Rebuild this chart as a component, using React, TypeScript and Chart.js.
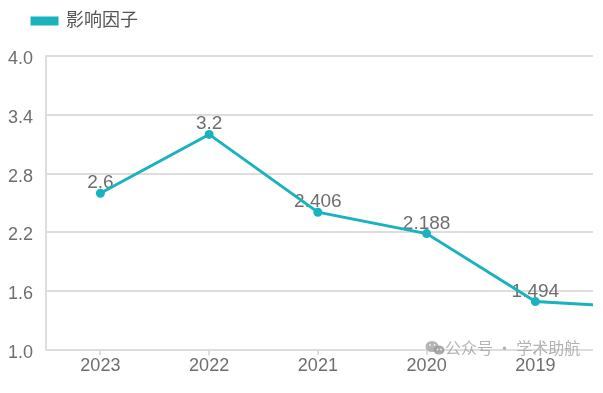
import React, { useEffect, useRef } from 'react';
import { Chart, registerables } from 'chart.js';

Chart.register(...registerables);

const categories = ['2023', '2022', '2021', '2020', '2019', '2018'];
const impactFactor = [2.6, 3.2, 2.406, 2.188, 1.494, 1.43];
const seriesName = '影响因子';
const yMin = 1.0;
const yMax = 4.0;
const yStep = 0.6;
const watermarkText = '公众号 · 学术助航';

const TEAL = '#19b3bf';
const GRID = '#dddddd';
const FONT = '"Liberation Sans", "Noto Sans CJK SC", Arial, sans-serif';

export default function App() {
  const ref = useRef<HTMLCanvasElement>(null);

  useEffect(() => {
    const canvas = ref.current;
    if (!canvas) return;

    const legendSpacer = {
      id: 'legendSpacer',
      beforeLayout(chart: any) {
        const lg = chart.legend;
        if (lg && !lg.__patched) {
          const orig = lg.fit.bind(lg);
          lg.fit = function () {
            orig();
            this.height = 54;
          };
          lg.__patched = true;
        }
      },
      afterLayout(chart: any) {
        const lg = chart.legend;
        if (lg) {
          lg.left = 22;
        }
      },
    };

    const valueLabels = {
      id: 'valueLabels',
      beforeDatasetsDraw(chart: any) {
        const ctx = chart.ctx;
        const meta = chart.getDatasetMeta(0);
        ctx.save();
        ctx.font = `19px ${FONT}`;
        ctx.fillStyle = '#6e6e6e';
        ctx.textAlign = 'center';
        ctx.textBaseline = 'alphabetic';
        meta.data.forEach((pt: any, i: number) => {
          ctx.fillText(String(impactFactor[i]), pt.x, pt.y - 5);
        });
        ctx.restore();
      },
    };

    const watermark = {
      id: 'watermark',
      afterDraw(chart: any) {
        const ctx = chart.ctx;
        ctx.save();
        ctx.globalAlpha = 0.85;
        ctx.fillStyle = '#a8a8a8';
        ctx.beginPath();
        ctx.ellipse(432, 346.5, 6.5, 5.5, 0, 0, Math.PI * 2);
        ctx.fill();
        ctx.fillStyle = '#9a9a9a';
        ctx.beginPath();
        ctx.ellipse(439, 350, 5.5, 4.5, 0, 0, Math.PI * 2);
        ctx.fill();
        ctx.fillStyle = '#ffffff';
        [[430, 345], [434.5, 345], [437.5, 349.5], [441, 349.5]].forEach(([x, y]) => {
          ctx.beginPath();
          ctx.arc(x, y, 0.9, 0, Math.PI * 2);
          ctx.fill();
        });
        ctx.fillStyle = '#a6a6a6';
        ctx.font = `16px "Noto Sans CJK SC", ${FONT}`;
        ctx.textAlign = 'left';
        ctx.textBaseline = 'middle';
        ctx.fillText(watermarkText, 445, 348);
        ctx.restore();
      },
    };

    const chart = new Chart(canvas, {
      type: 'line',
      data: {
        labels: categories,
        datasets: [
          {
            label: seriesName,
            data: impactFactor,
            borderColor: TEAL,
            backgroundColor: TEAL,
            borderWidth: 3,
            pointRadius: 4.5,
            pointBorderWidth: 0,
            pointBackgroundColor: TEAL,
            tension: 0,
          },
        ],
      },
      options: {
        responsive: false,
        animation: false,
        layout: { padding: { left: 0, top: 2, right: 0, bottom: 0 } },
        plugins: {
          legend: {
            display: true,
            position: 'top',
            align: 'start',
            labels: {
              boxWidth: 25,
              boxHeight: 6,
              padding: 10,
              color: '#555555',
              font: { size: 18, family: FONT },
            },
          },
          tooltip: { enabled: false },
        },
        scales: {
          x: {
            type: 'category',
            offset: true,
            afterFit(scale: any) {
              scale.height = 43;
            },
            grid: {
              display: true,
              offset: false,
              drawOnChartArea: false,
              drawTicks: true,
              tickLength: 5,
              color: GRID,
              lineWidth: 2,
            },
            border: { display: true, color: GRID, width: 2 },
            ticks: {
              padding: 0,
              color: '#6e6e6e',
              font: { size: 18, family: FONT },
              maxRotation: 0,
              autoSkip: false,
            },
          },
          y: {
            min: yMin,
            max: yMax,
            afterFit(scale: any) {
              scale.width = 46;
            },
            grid: {
              color: GRID,
              lineWidth: 2,
              drawTicks: false,
            },
            border: { display: true, color: GRID, width: 2 },
            ticks: {
              stepSize: yStep,
              padding: 13,
              labelOffset: 3,
              color: '#6e6e6e',
              font: { size: 18, family: FONT },
              callback: (v: any) => Number(v).toFixed(1),
            },
          },
        },
      },
      plugins: [legendSpacer, valueLabels, watermark],
    } as any);

    return () => chart.destroy();
  }, []);

  return (
    <div
      style={{
        position: 'absolute',
        left: 0,
        top: 0,
        width: 593,
        height: 393,
        overflow: 'hidden',
        background: '#ffffff',
      }}
    >
      <canvas ref={ref} width={703} height={393} style={{ display: 'block' }} />
    </div>
  );
}
